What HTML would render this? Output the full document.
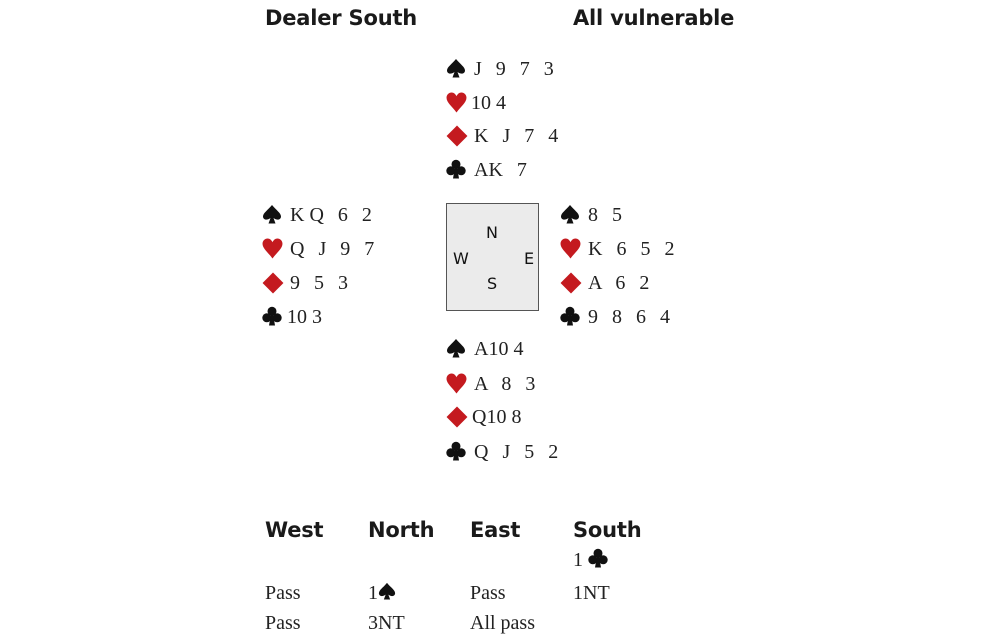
<!DOCTYPE html>
<html><head><meta charset="utf-8"><style>
body{margin:0;width:1000px;height:642px;background:#fff;position:relative;overflow:hidden}
.h{position:absolute;font-family:"DejaVu Sans","Liberation Sans",sans-serif;font-weight:bold;font-size:21px;color:#1a1a1a;line-height:24px;letter-spacing:-0.2px}
.r{position:absolute;font-family:"Liberation Serif",serif;font-size:20px;color:#222;line-height:24px;white-space:pre;word-spacing:9px}
.s{display:inline-block;width:28px;vertical-align:top;height:24px;position:relative}
.s svg{position:absolute;left:0;top:1px}
.box{position:absolute;left:446px;top:203px;width:91px;height:106px;background:#ebebeb;border:1.5px solid #555}
.c{position:absolute;font-family:"DejaVu Sans",sans-serif;font-size:16px;color:#111;line-height:18px}
.b{position:absolute;font-family:"Liberation Serif",serif;font-size:20px;color:#222;line-height:24px}
</style></head><body>
<svg width="0" height="0" style="position:absolute">
<defs>
<symbol id="sp" viewBox="0 0 20 20"><path d="M10 1 C6 6 1 9 1 12.5 C1 15.5 4.5 17 8.5 14 L6.5 19.5 H13.5 L11.5 14 C15.5 17 19 15.5 19 12.5 C19 9 14 6 10 1Z" fill="#111"/></symbol>
<symbol id="he" viewBox="0 0 20 20"><path d="M10 19.5 C6 14 0.5 10 0.5 5.5 C0.5 2.5 2.8 0.5 5.3 0.5 C7.5 0.5 9 2 10 4 C11 2 12.5 0.5 14.7 0.5 C17.2 0.5 19.5 2.5 19.5 5.5 C19.5 10 14 14 10 19.5Z" fill="#c41a1f"/></symbol>
<symbol id="di" viewBox="0 0 20 20"><path d="M10 0.5 L19.5 10 L10 19.5 L0.5 10Z" fill="#c41a1f"/></symbol>
<symbol id="cl" viewBox="0 0 20 20"><circle cx="10" cy="5.3" r="4.5" fill="#111"/><circle cx="4.8" cy="11.8" r="4.5" fill="#111"/><circle cx="15.2" cy="11.8" r="4.5" fill="#111"/><path d="M9 8 L7 19.5 H13 L11 8Z" fill="#111"/></symbol>
</defs></svg>

<div class="h" style="left:265px;top:6px">Dealer South</div>
<div class="h" style="left:573px;top:6px">All vulnerable</div>

<div class="r" style="left:446px;top:57px"><span class="s"><svg width="20" height="20"><use href="#sp"/></svg></span>J 9 7 3</div>
<div class="r" style="left:446px;top:91px"><span class="s"><svg width="21" height="21"><use href="#he"/></svg></span><span style="margin-left:-3px;word-spacing:0">10 4</span></div>
<div class="r" style="left:446px;top:124px"><span class="s"><svg width="22" height="22"><use href="#di"/></svg></span>K J 7 4</div>
<div class="r" style="left:446px;top:158px"><span class="s"><svg width="20" height="20"><use href="#cl"/></svg></span><span style="word-spacing:0">AK</span> 7</div>

<div class="r" style="left:262px;top:203px"><span class="s"><svg width="20" height="20"><use href="#sp"/></svg></span>K<span style="word-spacing:0"> </span>Q 6 2</div>
<div class="r" style="left:262px;top:237px"><span class="s"><svg width="21" height="21"><use href="#he"/></svg></span>Q J 9 7</div>
<div class="r" style="left:262px;top:271px"><span class="s"><svg width="22" height="22"><use href="#di"/></svg></span>9 5 3</div>
<div class="r" style="left:262px;top:305px"><span class="s"><svg width="20" height="20"><use href="#cl"/></svg></span><span style="margin-left:-3px;word-spacing:0">10 3</span></div>

<div class="r" style="left:560px;top:203px"><span class="s"><svg width="20" height="20"><use href="#sp"/></svg></span>8 5</div>
<div class="r" style="left:560px;top:237px"><span class="s"><svg width="21" height="21"><use href="#he"/></svg></span>K 6 5 2</div>
<div class="r" style="left:560px;top:271px"><span class="s"><svg width="22" height="22"><use href="#di"/></svg></span>A 6 2</div>
<div class="r" style="left:560px;top:305px"><span class="s"><svg width="20" height="20"><use href="#cl"/></svg></span>9 8 6 4</div>

<div class="r" style="left:446px;top:337px"><span class="s"><svg width="20" height="20"><use href="#sp"/></svg></span><span style="word-spacing:0">A10 4</span></div>
<div class="r" style="left:446px;top:372px"><span class="s"><svg width="21" height="21"><use href="#he"/></svg></span>A 8 3</div>
<div class="r" style="left:446px;top:405px"><span class="s"><svg width="22" height="22"><use href="#di"/></svg></span><span style="margin-left:-2px;word-spacing:0">Q10 8</span></div>
<div class="r" style="left:446px;top:440px"><span class="s"><svg width="20" height="20"><use href="#cl"/></svg></span>Q J 5 2</div>

<div class="box"></div>
<div class="c" style="left:486px;top:224px">N</div>
<div class="c" style="left:453px;top:250px">W</div>
<div class="c" style="left:524px;top:250px">E</div>
<div class="c" style="left:487px;top:275px">S</div>

<div class="h" style="left:265px;top:518px">West</div>
<div class="h" style="left:368px;top:518px">North</div>
<div class="h" style="left:470px;top:518px">East</div>
<div class="h" style="left:573px;top:518px">South</div>
<div class="b" style="left:573px;top:548px">1 <svg width="20" height="20" style="vertical-align:-2px"><use href="#cl"/></svg></div>
<div class="b" style="left:265px;top:581px">Pass</div>
<div class="b" style="left:368px;top:581px">1<svg width="18" height="18" style="vertical-align:-1px"><use href="#sp"/></svg></div>
<div class="b" style="left:470px;top:581px">Pass</div>
<div class="b" style="left:573px;top:581px">1NT</div>
<div class="b" style="left:265px;top:611px">Pass</div>
<div class="b" style="left:368px;top:611px">3NT</div>
<div class="b" style="left:470px;top:611px">All pass</div>
</body></html>
